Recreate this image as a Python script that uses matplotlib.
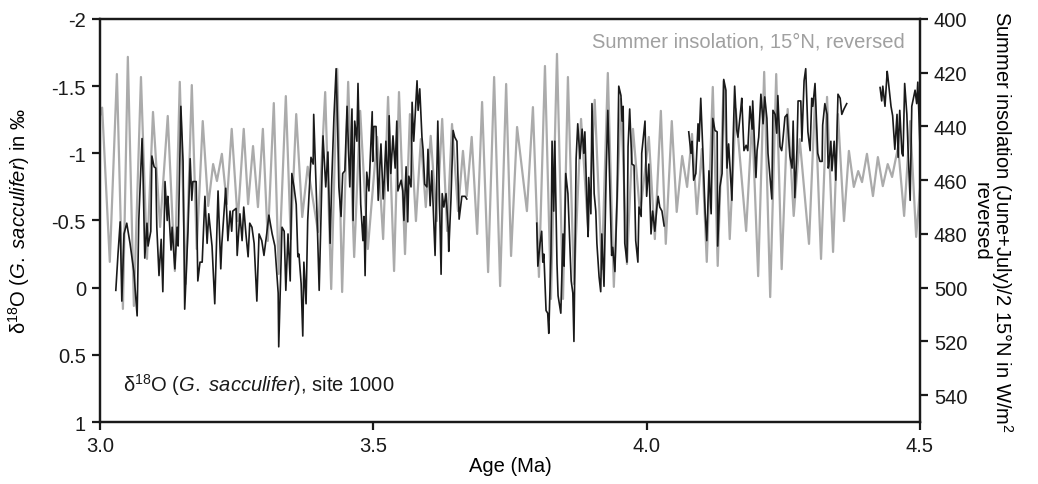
import matplotlib.pyplot as plt
import numpy as np

plt.rcParams['font.family'] = ['Liberation Sans', 'DejaVu Sans']
plt.rcParams['mathtext.fontset'] = 'custom'
plt.rcParams['mathtext.rm'] = 'Liberation Sans'
plt.rcParams['mathtext.it'] = 'Liberation Sans:italic'
plt.rcParams['axes.unicode_minus'] = False

# d18O record, site 1000 (NaN marks gaps in the record)
d18o_age = [
    3.029, 3.033, 3.037, 3.040, 3.044, 3.049, 3.055, 3.062, 3.068, 3.071, 3.077, 3.079, 3.082, 3.086,
    3.088, 3.093, 3.095, 3.099, 3.102, 3.104, 3.108, 3.112, 3.115, 3.119, 3.123, 3.124, 3.126, 3.130,
    3.132, 3.137, 3.141, 3.143, 3.148, 3.152, 3.155, 3.161, 3.165, 3.168, 3.170, 3.176, 3.179, 3.183,
    3.187, 3.192, 3.196, 3.199, 3.205, 3.210, 3.216, 3.221, 3.223, 3.230, 3.234, 3.238, 3.241, 3.243,
    3.249, 3.251, 3.256, 3.260, 3.263, 3.267, 3.271, 3.274, 3.278, 3.282, 3.287, 3.291, 3.296, 3.300,
    3.305, 3.309, 3.315, 3.320, 3.326, 3.327, 3.333, 3.337, 3.340, 3.344, 3.348, 3.351, 3.355, 3.359,
    3.362, 3.364, 3.368, 3.371, 3.373, 3.377, 3.380, 3.386, 3.390, 3.391, 3.397, 3.401, 3.404, 3.408,
    3.413, 3.417, 3.421, 3.424, 3.428, 3.432, 3.435, 3.437, 3.441, 3.444, 3.448, 3.452, 3.457, 3.461,
    3.463, 3.466, 3.470, 3.472, 3.477, 3.481, 3.483, 3.485, 3.488, 3.492, 3.498, 3.499, 3.501, 3.505,
    3.509, 3.514, 3.518, 3.520, 3.523, 3.527, 3.529, 3.532, 3.536, 3.540, 3.543, 3.545, 3.551, 3.554,
    3.556, 3.560, 3.563, 3.565, 3.569, 3.571, 3.574, 3.580, 3.582, 3.585, 3.589, 3.591, 3.594, 3.598,
    3.600, 3.604, 3.607, 3.611, 3.613, 3.616, 3.618, 3.624, 3.626, 3.629, 3.633, 3.637, 3.638, 3.642,
    3.646, 3.649, 3.653, 3.657, 3.662, 3.668, 3.671,
    3.735,
    3.799, 3.801, 3.805, 3.808, 3.810, 3.812, 3.816, 3.819, 3.821, 3.825, 3.827, 3.830, 3.832, 3.836,
    3.838, 3.843, 3.847, 3.849, 3.852, 3.856, 3.862, 3.865, 3.867, 3.871, 3.874, 3.878, 3.882, 3.885,
    3.887, 3.891, 3.893, 3.894, 3.898, 3.900, 3.904, 3.907, 3.909, 3.913, 3.916, 3.918, 3.922, 3.926,
    3.929, 3.933, 3.936, 3.938, 3.942, 3.946, 3.949, 3.953, 3.955, 3.957, 3.960, 3.964, 3.966, 3.969,
    3.973, 3.977, 3.980, 3.984, 3.986, 3.990, 3.991, 3.997, 4.000, 4.004, 4.008, 4.011, 4.015, 4.019,
    4.021, 4.024, 4.028, 4.032,
    4.055,
    4.077, 4.081, 4.083, 4.086, 4.090, 4.094, 4.096, 4.099, 4.103, 4.107, 4.110, 4.114, 4.118, 4.121,
    4.125, 4.129, 4.130, 4.134, 4.138, 4.141, 4.145, 4.147, 4.150, 4.156, 4.158, 4.161, 4.165, 4.167,
    4.172, 4.174, 4.178, 4.182, 4.185, 4.189, 4.193, 4.194, 4.200, 4.202, 4.205, 4.209, 4.213, 4.216,
    4.220, 4.222, 4.226, 4.229, 4.231, 4.235, 4.238, 4.240, 4.244, 4.247, 4.249, 4.253, 4.257, 4.258,
    4.262, 4.266, 4.268, 4.271, 4.275, 4.277, 4.282, 4.284, 4.288, 4.291, 4.295, 4.299, 4.302, 4.304,
    4.308, 4.311, 4.313, 4.317, 4.321, 4.322, 4.326, 4.330, 4.332, 4.333, 4.337, 4.339, 4.343, 4.346,
    4.350, 4.354, 4.357, 4.361, 4.366,
    4.396,
    4.427, 4.430, 4.432, 4.436, 4.440, 4.441, 4.447, 4.450, 4.454, 4.458, 4.460, 4.463, 4.467, 4.469,
    4.472, 4.476, 4.478, 4.482, 4.485, 4.487, 4.491, 4.494, 4.496, 4.500,
]
d18o_val = [
    0.02, -0.25, -0.49, 0.10, -0.40, -0.48, -0.33, -0.12, 0.21, -0.50, -1.11, -0.80, -0.22, -0.48,
    -0.31, -0.42, -0.98, -0.90, -0.89, -0.45, -0.09, -0.36, 0.03, -0.79, -0.50, -0.68, -0.57, -0.28,
    -0.45, -0.14, -0.45, -0.31, -1.35, -0.94, 0.16, -0.42, -0.96, -0.65, -0.79, -0.79, -0.05, -0.19,
    -0.19, -0.68, -0.33, -0.55, -0.31, 0.12, -0.72, -0.14, -0.33, -0.74, -0.35, -0.57, -0.42, -0.57,
    -0.59, -0.24, -0.55, -0.35, -0.60, -0.40, -0.23, -0.48, -0.45, -0.33, 0.10, -0.40, -0.35, -0.24,
    -0.40, -0.54, -0.40, -0.31, 0.04, 0.44, -0.45, -0.42, 0.02, -0.40, -0.05, -0.85, -0.75, -0.62,
    -0.23, -0.25, -0.03, 0.36, -0.19, 0.12, -0.50, -0.97, -0.92, -1.29, -0.55, 0.02, -0.48, -1.13,
    -0.75, -1.01, -0.33, -0.80, -1.27, -1.63, -1.15, -0.75, -0.53, -0.85, -0.87, -1.35, -0.75, -1.33,
    -0.50, -1.24, -1.09, -1.52, -0.62, -0.35, -0.53, -0.09, -0.86, -0.72, -1.31, -0.94, -1.20, -1.20,
    -0.65, -1.07, -0.66, -0.80, -1.09, -0.72, -1.28, -0.85, -1.13, -0.89, -1.24, -0.72, -0.80, -0.72,
    -0.50, -0.90, -0.49, -0.83, -0.75, -1.38, -1.09, -1.54, -1.32, -1.48, -1.12, -1.03, -0.77, -0.75,
    -1.03, -0.61, -0.87, -0.45, -0.24, -0.80, -1.24, -0.10, -0.70, -0.60, -0.70, -0.44, -0.27, -0.65,
    -1.17, -1.12, -1.09, -0.51, -0.68, -0.68, -0.66,
    np.nan,
    -0.48, -0.16, -0.33, -0.42, -0.19, -0.25, 0.17, 0.19, 0.34, -0.25, -1.09, -0.57, -1.09, -0.18,
    0.06, 0.19, -0.40, -0.16, -0.85, -0.70, -0.05, 0.04, 0.40, -0.96, -1.22, -0.96, -1.18, -1.00,
    -1.16, -0.60, -0.38, -0.82, -0.55, -1.37, -0.70, -0.57, -0.33, -0.08, 0.03, -0.40, -0.01, -0.86,
    -1.32, -0.72, -0.24, -0.30, -0.12, -0.68, -1.50, -1.43, -1.24, -1.35, -0.33, -0.19, -1.05, -1.33,
    -0.92, -0.91, -0.35, -0.19, -0.60, -0.53, -1.00, -1.24, -0.68, -0.92, -0.40, -0.57, -0.42, -0.61,
    -0.68, -0.60, -0.57, -0.46,
    np.nan,
    -1.16, -1.00, -1.09, -0.80, -0.85, -1.22, -1.09, -1.41, -1.00, -0.56, -0.35, -0.87, -0.55, -1.26,
    -1.17, -1.16, -0.31, -0.75, -0.85, -1.55, -1.47, -0.89, -1.07, -0.65, -1.07, -1.50, -1.17, -1.12,
    -1.32, -1.41, -1.02, -1.06, -1.02, -1.35, -1.18, -1.39, -0.82, -1.02, -1.12, -1.44, -1.22, -1.42,
    -1.26, -1.00, -0.80, -0.66, -1.32, -1.29, -1.15, -1.43, -1.05, -1.02, -1.09, -1.27, -1.29, -1.22,
    -0.98, -0.89, -1.24, -0.67, -1.03, -1.39, -1.39, -1.09, -1.54, -1.63, -1.16, -1.02, -1.41, -1.35,
    -1.52, -1.22, -1.00, -0.94, -0.94, -1.21, -1.37, -1.29, -0.89, -0.90, -1.09, -0.87, -1.09, -0.80,
    -1.44, -1.41, -1.29, -1.33, -1.37,
    np.nan,
    -1.49, -1.39, -1.50, -1.35, -1.61, -1.58, -1.35, -1.28, -1.03, -1.29, -0.97, -1.32, -1.00, -0.98,
    -1.52, -1.29, -1.05, -0.65, -1.35, -1.39, -1.47, -1.37, -1.53, -1.05,
]

# summer insolation 15N (June+July)/2, peaks and troughs
ins_age = [
    3.000, 3.004, 3.018, 3.031, 3.042, 3.051, 3.062, 3.075, 3.086, 3.097, 3.110, 3.124, 3.137, 3.146,
    3.157, 3.168, 3.177, 3.188, 3.198, 3.207, 3.214, 3.223, 3.232, 3.241, 3.252, 3.263, 3.271, 3.280,
    3.289, 3.298, 3.307, 3.318, 3.327, 3.340, 3.349, 3.359, 3.370, 3.380, 3.399, 3.412, 3.423, 3.434,
    3.443, 3.454, 3.465, 3.476, 3.490, 3.507, 3.518, 3.527, 3.538, 3.547, 3.558, 3.567, 3.578, 3.587,
    3.596, 3.605, 3.616, 3.626, 3.635, 3.644, 3.655, 3.664, 3.671, 3.680, 3.690, 3.699, 3.710, 3.721,
    3.732, 3.743, 3.752, 3.763, 3.781, 3.792, 3.803, 3.814, 3.825, 3.836, 3.847, 3.856, 3.867, 3.880,
    3.893, 3.905, 3.918, 3.929, 3.940, 3.953, 3.964, 3.975, 3.988, 4.004, 4.015, 4.026, 4.035, 4.046,
    4.055, 4.065, 4.074, 4.083, 4.092, 4.101, 4.110, 4.121, 4.130, 4.141, 4.152, 4.163, 4.182, 4.193,
    4.204, 4.215, 4.226, 4.237, 4.247, 4.258, 4.269, 4.280, 4.297, 4.308, 4.319, 4.330, 4.341, 4.350,
    4.361, 4.370, 4.379, 4.387, 4.394, 4.403, 4.414, 4.423, 4.432, 4.441, 4.449, 4.460, 4.471, 4.482,
    4.493, 4.500,
]
ins_val = [
    436.0, 433.0, 490.4, 420.5, 507.9, 414.1, 506.8, 421.6, 489.3, 434.6, 477.4, 436.1, 493.8, 423.4,
    498.6, 424.6, 485.6, 438.0, 469.6, 454.0, 460.3, 450.2, 468.9, 440.9, 475.2, 440.9, 468.9, 447.3,
    470.0, 440.9, 482.6, 431.3, 494.9, 428.7, 481.9, 435.4, 473.7, 455.0, 479.3, 427.2, 500.5, 418.6,
    501.6, 423.4, 488.6, 434.2, 485.6, 443.9, 481.9, 429.0, 493.8, 427.2, 487.5, 435.4, 475.2, 444.7,
    470.0, 443.5, 475.2, 437.2, 478.9, 439.1, 471.5, 449.1, 465.9, 443.9, 480.0, 430.9, 494.2, 421.6,
    499.4, 424.2, 488.2, 440.2, 471.5, 432.8, 496.0, 417.5, 504.2, 413.0, 504.2, 421.6, 498.6, 437.2,
    478.9, 430.1, 493.1, 420.1, 499.7, 429.8, 491.2, 440.9, 472.6, 443.9, 481.9, 434.2, 483.7, 438.0,
    471.8, 451.0, 462.5, 442.8, 472.6, 448.4, 490.4, 425.3, 491.9, 423.1, 481.9, 433.5, 478.9, 437.2,
    495.7, 419.7, 503.5, 420.5, 493.1, 433.5, 473.3, 444.7, 483.7, 429.8, 489.3, 429.0, 486.7, 435.4,
    475.2, 449.1, 462.5, 456.6, 460.7, 450.2, 465.9, 451.4, 462.2, 454.0, 458.8, 447.6, 473.3, 438.0,
    481.1, 463.3,
]

fig = plt.figure(figsize=(10.38, 4.85), dpi=100)
ax = fig.add_axes([0.0963, 0.1278, 0.79, 0.831])
ax2 = ax.twinx()

# grey insolation curve behind, black isotope curve in front
ax2.plot(ins_age, ins_val, color='#ababab', lw=1.6, solid_joinstyle='round')
ax.plot(d18o_age, d18o_val, color='#1a1a1a', lw=1.2)
ax.set_zorder(ax2.get_zorder() + 1)
ax.patch.set_visible(False)

ax.set_xlim(3.0, 4.5)
ax.set_ylim(1, -2)
ax2.set_ylim(550, 400)

ax.set_xticks([3.0, 3.5, 4.0, 4.5])
ax.set_xticklabels(['3.0', '3.5', '4.0', '4.5'])
ax.set_yticks([-2, -1.5, -1, -0.5, 0, 0.5, 1])
ax.set_yticklabels(['-2', '-1.5', '-1', '-0.5', '0', '0.5', '1'])
ax2.set_yticks(range(400, 541, 20))

fs = 14.5
for a in (ax, ax2):
    for s in a.spines.values():
        s.set_linewidth(1.6)
        s.set_color('#1a1a1a')
    a.tick_params(direction='out', length=6, width=1.6, labelsize=fs, colors='#1a1a1a', pad=4)

ax.set_xlabel('Age (Ma)', fontsize=fs, labelpad=1)
ax.set_ylabel('δ$^{18}$O ($\\it{G.\\ sacculifer}$) in ‰', fontsize=fs, labelpad=14)
ax2.set_ylabel('Summer insolation (June+July)/2 15°N in W/m$^2$\nreversed',
               fontsize=fs, rotation=270, labelpad=34, linespacing=0.85)

ax.text(0.982, 0.945, 'Summer insolation, 15°N, reversed', transform=ax.transAxes,
        ha='right', va='center', fontsize=fs, color='#a0a0a0')
ax.text(0.028, 0.094, 'δ$^{18}$O ($\\it{G.\\ sacculifer}$), site 1000', transform=ax.transAxes,
        ha='left', va='center', fontsize=fs, color='#1a1a1a')

fig.savefig('out.png', dpi=100)
plt.close()
